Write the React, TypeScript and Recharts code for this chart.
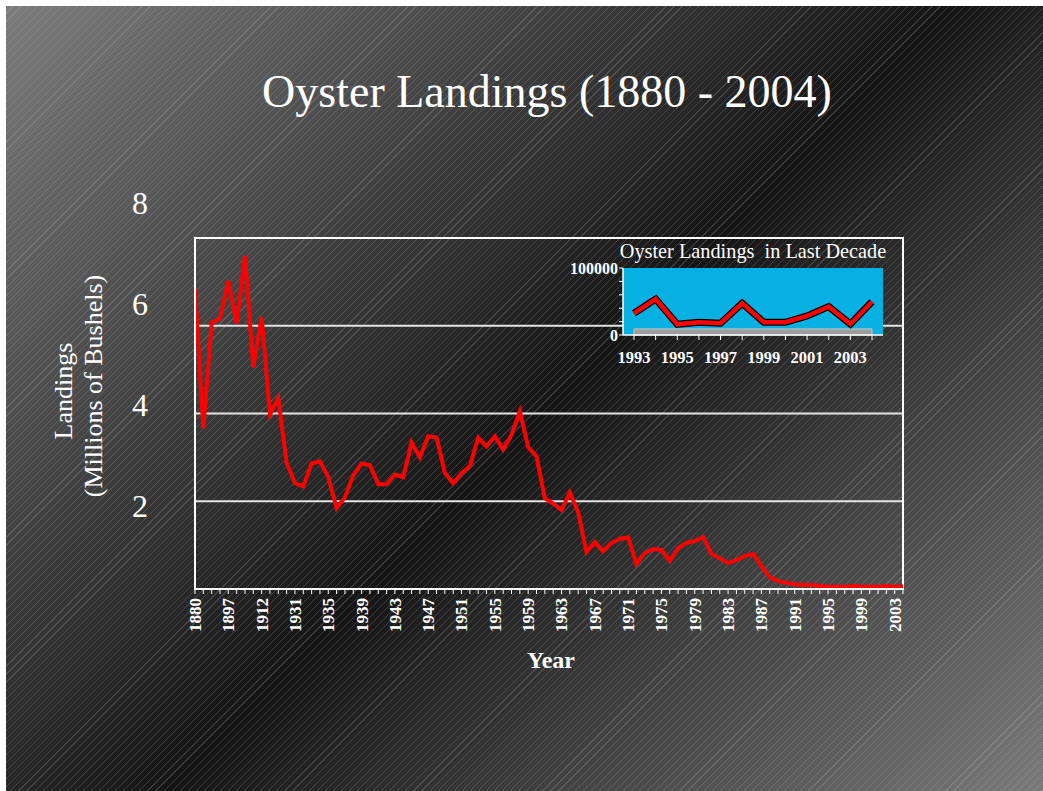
import React from 'react';
import { LineChart, Line, XAxis, YAxis, CartesianGrid, ReferenceArea } from 'recharts';

// main series: millions of bushels, 1880-2004 (early years are sparse)
const years = [
  '1880', '1884', '1887', '1890', '1897', '1901', '1904', '1908', '1912', '1916', '1920', '1926',
  '1931', '1932', '1933', '1934', '1935', '1936', '1937', '1938', '1939', '1940',
  '1941', '1942', '1943', '1944', '1945', '1946', '1947', '1948', '1949', '1950',
  '1951', '1952', '1953', '1954', '1955', '1956', '1957', '1958', '1959', '1960',
  '1961', '1962', '1963', '1964', '1965', '1966', '1967', '1968', '1969', '1970',
  '1971', '1972', '1973', '1974', '1975', '1976', '1977', '1978', '1979', '1980',
  '1981', '1982', '1983', '1984', '1985', '1986', '1987', '1988', '1989', '1990',
  '1991', '1992', '1993', '1994', '1995', '1996', '1997', '1998', '1999', '2000',
  '2001', '2002', '2003', '2004',
];

const landings = [
  6.84, 3.66, 6.07, 6.16, 7.02, 6.05, 7.59, 5.05, 6.2, 3.98, 4.35, 2.87,
  2.41, 2.34, 2.86, 2.91, 2.55, 1.84, 2.09, 2.59, 2.86, 2.82,
  2.39, 2.39, 2.61, 2.55, 3.34, 3.0, 3.48, 3.45, 2.64, 2.41,
  2.64, 2.8, 3.45, 3.25, 3.48, 3.18, 3.52, 4.05, 3.23, 3.02,
  2.07, 1.95, 1.8, 2.2, 1.75, 0.84, 1.07, 0.86, 1.05, 1.14,
  1.18, 0.57, 0.82, 0.91, 0.89, 0.64, 0.93, 1.05, 1.09, 1.18,
  0.8, 0.7, 0.59, 0.66, 0.75, 0.8, 0.52, 0.27, 0.18, 0.14,
  0.11, 0.09, 0.09, 0.07, 0.05, 0.05, 0.05, 0.07, 0.05, 0.05,
  0.05, 0.07, 0.05, 0.06,
];

const yTicks = [0, 2, 4, 6, 8];

// inset: bushels in the last decade
const insetYears = ['1993', '1994', '1995', '1996', '1997', '1998', '1999', '2000', '2001', '2002', '2003', '2004'];
const insetLandings = [32400, 53700, 16000, 19000, 17500, 47300, 19000, 19000, 28400, 42300, 16400, 49700];
const insetTicks = [0, 20000, 40000, 60000, 80000, 100000];

const mainData = years.map((year, i) => ({ year, landings: landings[i] }));
const insetData = insetYears.map((year, i) => ({ year, landings: insetLandings[i] }));

const SERIF = '"Liberation Serif", "Times New Roman", serif';
const PLOT_TOP = 232;

// the slide's y labels sit a little off the gridlines, spread wider than the scale
const renderLandingTick = (props: any) => {
  const { y, payload } = props;
  if (payload.value === 0) return <g />;
  const baseline = 208 + (y - PLOT_TOP) * 1.15;
  return (
    <text x={134} y={baseline} textAnchor="middle" fill="#fff" fontSize={32} fontFamily={SERIF}>
      {payload.value}
    </text>
  );
};

const renderYearTick = (props: any) => {
  const { x, y, payload } = props;
  const idx = props.index ?? payload.index ?? 0;
  if (idx % 4 !== 0) return <g />;
  const ty = y + 2;
  return (
    <text
      x={x}
      y={ty}
      dy="0.35em"
      transform={`rotate(-90, ${x}, ${ty})`}
      textAnchor="end"
      fill="#fff"
      fontSize={17}
      fontWeight="bold"
      fontFamily={SERIF}
    >
      {payload.value}
    </text>
  );
};

const renderInsetYearTick = (props: any) => {
  const { x, y, payload } = props;
  const idx = props.index ?? payload.index ?? 0;
  if (idx % 2 !== 0) return <g />;
  return (
    <text x={x} y={y} dy="0.71em" textAnchor="middle" fill="#fff" fontSize={16.5} fontWeight="bold" fontFamily={SERIF}>
      {payload.value}
    </text>
  );
};

const renderInsetValueTick = (props: any) => {
  const { x, y, payload } = props;
  if (payload.value !== 0 && payload.value !== 100000) return <g />;
  return (
    <text x={x} y={y} dy="0.36em" textAnchor="end" fill="#fff" fontSize={16} fontWeight="bold" fontFamily={SERIF}>
      {payload.value}
    </text>
  );
};

export default function App() {
  return (
    <div
      style={{
        position: 'absolute',
        left: 6,
        top: 6,
        width: 1037,
        height: 785,
        overflow: 'hidden',
        background:
          'repeating-linear-gradient(135deg, rgba(255,255,255,0) 0px, rgba(255,255,255,0) 4.9px, rgba(200,200,200,0.2) 4.9px, rgba(200,200,200,0.2) 5.7px), linear-gradient(135deg, #7c7c7c 0%, #151515 52%, #7a7a7a 100%)',
      }}
    >
      <div style={{ position: 'absolute', left: 0, top: 0 }}>
        <LineChart width={1037} height={785} data={mainData} margin={{ top: PLOT_TOP, right: 140, bottom: 142, left: 129 }}>
          <CartesianGrid vertical={false} stroke="#e4e4e4" strokeWidth={2} />
          <XAxis
            dataKey="year"
            interval={0}
            height={60}
            tick={renderYearTick}
            tickSize={5}
            tickLine={{ stroke: '#fff' }}
            axisLine={{ stroke: '#fff', strokeWidth: 2 }}
          />
          <YAxis
            domain={[0, 8]}
            ticks={yTicks}
            interval={0}
            width={60}
            tick={renderLandingTick}
            tickLine={false}
            axisLine={{ stroke: '#fff', strokeWidth: 2 }}
          />
          <ReferenceArea x1="1880" x2="2004" y1={0} y2={8} fill="none" stroke="#fff" strokeWidth={2} />
          <Line type="linear" dataKey="landings" stroke="#ff0000" strokeWidth={4} dot={false} isAnimationActive={false} />
        </LineChart>
      </div>

      <div style={{ position: 'absolute', left: 540, top: 240 }}>
        <LineChart width={360} height={130} data={insetData} margin={{ top: 22, right: 23, bottom: 11, left: 17 }}>
          <CartesianGrid fill="#06b0e2" horizontal={false} vertical={false} />
          <ReferenceArea y1={0} y2={9000} fill="#9c9c9c" fillOpacity={1} stroke="#c8c8c8" />
          <XAxis
            dataKey="year"
            interval={0}
            height={30}
            padding={{ left: 11, right: 11 }}
            tick={renderInsetYearTick}
            tickSize={5}
            tickMargin={11}
            tickLine={{ stroke: '#fff' }}
            axisLine={{ stroke: '#fff', strokeWidth: 1.5 }}
          />
          <YAxis
            domain={[0, 100000]}
            ticks={insetTicks}
            interval={0}
            width={60}
            tickSize={4}
            tickMargin={1}
            tick={renderInsetValueTick}
            tickLine={{ stroke: '#fff' }}
            axisLine={{ stroke: '#fff', strokeWidth: 1.5 }}
          />
          <Line type="linear" dataKey="landings" stroke="#000" strokeWidth={7} dot={false} isAnimationActive={false} />
          <Line type="linear" dataKey="landings" stroke="#ff0000" strokeWidth={4.5} dot={false} isAnimationActive={false} />
        </LineChart>
      </div>

      <svg width={1037} height={785} style={{ position: 'absolute', left: 0, top: 0, pointerEvents: 'none' }}>
        <text x={541} y={101} textAnchor="middle" fill="#fff" fontSize={46} fontFamily={SERIF}>
          Oyster Landings (1880 - 2004)
        </text>
        <text x={747} y={252} textAnchor="middle" fill="#fff" fontSize={20.3} fontFamily={SERIF} style={{ whiteSpace: 'pre' }}>
          Oyster Landings  in Last Decade
        </text>
        <text x={66} y={385} transform="rotate(-90, 66, 385)" textAnchor="middle" fill="#fff" fontSize={26} fontFamily={SERIF}>
          Landings
        </text>
        <text x={96} y={380} transform="rotate(-90, 96, 380)" textAnchor="middle" fill="#fff" fontSize={26} fontFamily={SERIF}>
          (Millions of Bushels)
        </text>
        <text x={545} y={662} textAnchor="middle" fill="#fff" fontSize={24} fontWeight="bold" fontFamily={SERIF}>
          Year
        </text>
      </svg>
    </div>
  );
}
